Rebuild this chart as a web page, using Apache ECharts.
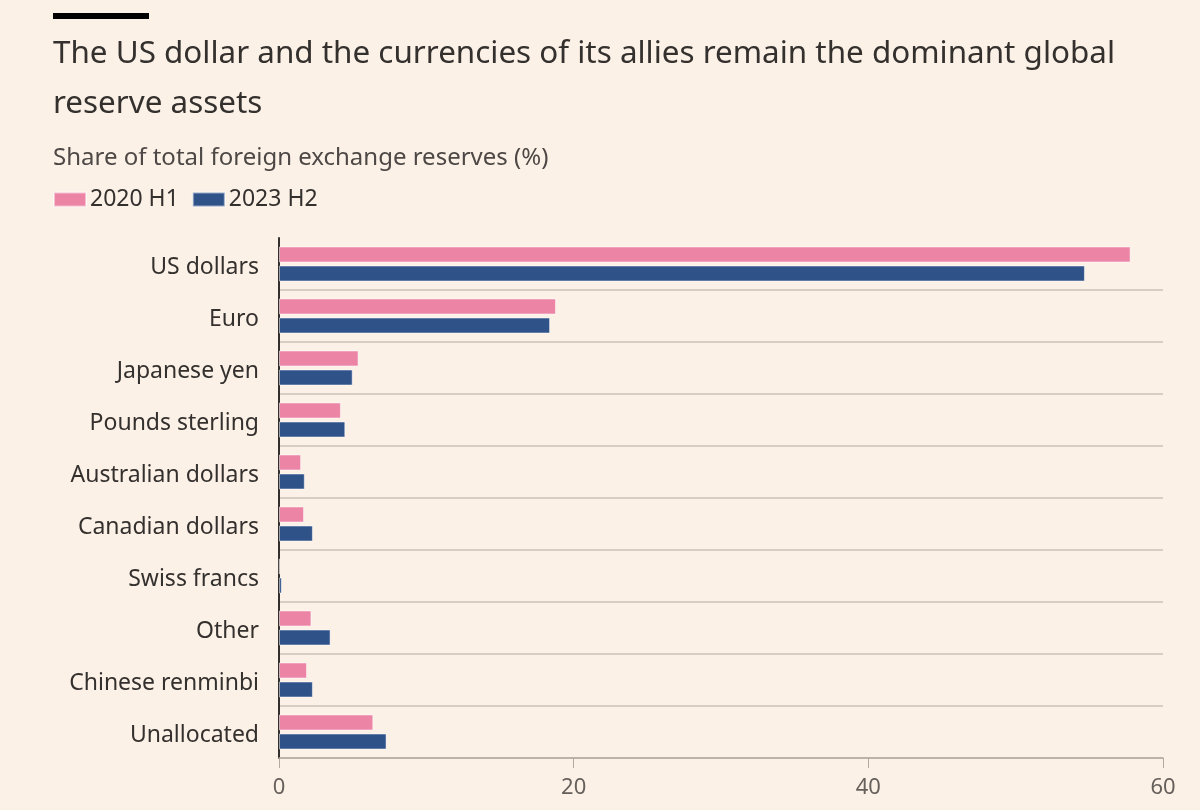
<!DOCTYPE html>
<html><head><meta charset="utf-8">
<script src="https://cdn.jsdelivr.net/npm/echarts@6/dist/echarts.min.js"></script>
<style>html,body{margin:0;padding:0;background:#fcf1e7;}#c{width:1200px;height:810px;}</style>
</head><body><div id="c"></div>
<script>
const categories = ["US dollars","Euro","Japanese yen","Pounds sterling","Australian dollars","Canadian dollars","Swiss francs","Other","Chinese renminbi","Unallocated"];
const seriesNames = ["2020 H1","2023 H2"];
const values2020H1 = [57.8,18.8,5.4,4.2,1.5,1.7,0.05,2.2,1.9,6.4];
const values2023H2 = [54.7,18.4,5.0,4.5,1.75,2.3,0.19,3.5,2.3,7.3];
const xTicks = [0,20,40,60];

const FONT = '"Noto Sans", sans-serif';
const chart = echarts.init(document.getElementById('c'));
chart.setOption({
  backgroundColor: '#fcf1e7',
  animation: false,
  title: [{
    text: 'The US dollar and the currencies of its allies remain the dominant global\nreserve assets',
    left: 53, top: 29, padding: 0,
    textStyle: {fontFamily: FONT, fontSize: 31.4, fontWeight: 'normal', color: '#33302e', lineHeight: 50}
  },{
    text: 'Share of total foreign exchange reserves (%)',
    left: 53, top: 146, padding: 0,
    textStyle: {fontFamily: FONT, fontSize: 24, fontWeight: 'normal', color: '#4d4845'}
  }],
  graphic: [{type: 'rect', left: 53, top: 13, shape: {width: 96, height: 6}, style: {fill: '#000'}}],
  legend: {
    left: 53, top: 188, padding: 0, itemWidth: 32, itemHeight: 14, itemGap: 13, icon: 'rect',
    textStyle: {fontFamily: FONT, fontSize: 23, color: '#33302e', padding: [0,0,0,-1]},
    data: seriesNames
  },
  grid: {left: 279, right: 37, top: 238, bottom: 52, containLabel: false},
  xAxis: {
    type: 'value', min: 0, max: 60, interval: 20,
    axisLine: {show: true, lineStyle: {color: '#b3a9a0', width: 1.5}},
    axisTick: {show: true, length: 10, lineStyle: {color: '#b3a9a0'}},
    splitLine: {show: false},
    axisLabel: {fontFamily: FONT, fontSize: 22, color: '#66605c', margin: 19,
      formatter: v => xTicks.includes(v) ? String(v) : ''}
  },
  yAxis: {
    type: 'category', data: categories, inverse: true,
    axisLine: {show: true, lineStyle: {color: '#33302e', width: 2}},
    axisTick: {show: false},
    splitLine: {show: true, lineStyle: {color: '#ccc1b7', width: 1.5}, interval: (i) => i !== 0},
    axisLabel: {margin: 20, formatter: v => '{a|' + v + '}',
      rich: {a: {fontFamily: FONT, fontSize: 23, color: '#33302e', padding: [7,0,0,0]}}}
  },
  series: [{
    name: seriesNames[0], type: 'bar', data: values2020H1, barWidth: 16, barGap: '19%',
    itemStyle: {color: '#ec84a6', borderColor: 'rgba(255,255,255,0.5)', borderWidth: 1}
  },{
    name: seriesNames[1], type: 'bar', data: values2023H2, barWidth: 16,
    itemStyle: {color: '#2f5289', borderColor: 'rgba(255,255,255,0.5)', borderWidth: 1}
  }]
});
</script></body></html>
